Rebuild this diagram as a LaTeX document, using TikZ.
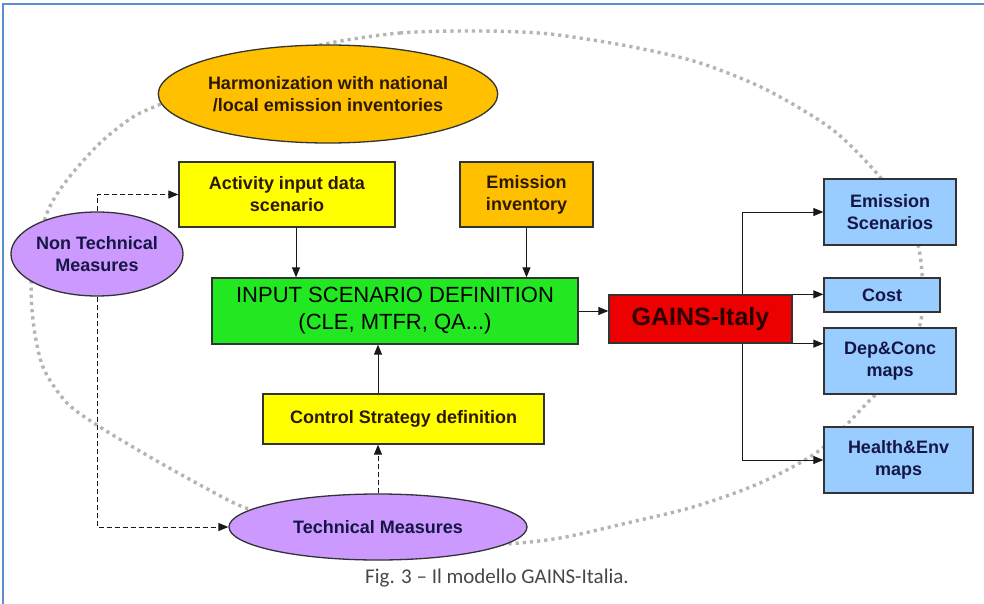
\documentclass[tikz,border=0pt]{standalone}
\usepackage{fontspec}
\setmainfont{Liberation Sans}
\newfontfamily\capfont{Carlito}
\usepackage{tikz}
\usetikzlibrary{positioning,arrows.meta,shapes.geometric}
\definecolor{gold}{RGB}{255,192,0}
\definecolor{lemon}{RGB}{255,255,0}
\definecolor{lime}{RGB}{34,232,34}
\definecolor{gainsred}{RGB}{236,0,0}
\definecolor{skyblue}{RGB}{153,204,255}
\definecolor{lilac}{RGB}{204,153,255}
\definecolor{framebl}{RGB}{91,143,210}
\definecolor{dotgrey}{RGB}{180,180,180}
\definecolor{inkbrown}{RGB}{45,25,0}
\definecolor{inknavy}{RGB}{22,22,70}
\newcommand{\lbl}{\fontsize{18}{22}\selectfont\bfseries}
\tikzset{
  box/.style  ={draw=black!80, line width=1.3pt, align=center, inner sep=0pt,
                font=\lbl, text=inkbrown},
  oval/.style ={box, ellipse},
  outbox/.style={box, fill=skyblue, text=inknavy, minimum height=66pt},
  ar/.style   ={-{Triangle[length=10pt,width=8pt]}, line width=1pt, draw=black!90},
  dar/.style  ={ar, dash pattern=on 5pt off 3pt},
  loop/.style ={draw=dotgrey, line width=3.4pt, dash pattern=on 3.2pt off 4pt},
}
\begin{document}
\begin{tikzpicture}[x=1pt,y=-1pt]
\useasboundingbox (0,0) rectangle (984,604);
% ---------- frame and dotted loop ----------
\draw[framebl, line width=2pt] (3,604) -- (3,4) -- (984,4);
\draw[loop] plot[smooth cycle] coordinates {
  (320,45) (400,33) (480,31) (550,34) (633,47) (700,63) (767,90) (833,130)
  (880,177) (910,220) (921,262) (921,320) (900,370) (870,400) (820,450)
  (760,483) (693,507) (627,523) (560,538) (500,544) (430,540) (350,528)
  (280,516) (243,507) (200,485) (150,457) (100,427) (67,403) (43,367)
  (33,320) (32,270) (47,213) (67,180) (100,143) (133,117) (163,103) (240,68)};

% ---------- inputs ----------
\node[oval, fill=gold, minimum width=330pt, minimum height=98pt] (harm) at (328,94)
  {Harmonization with national\\/local emission inventories};
\node[box, fill=lemon, minimum width=216pt, minimum height=65pt] (act) at (287,194.5)
  {Activity input data\\scenario};
\node[box, fill=gold, minimum width=133pt, minimum height=65pt] (inv) at (526.5,194.5)
  {Emission\\inventory};
\node[box, fill=lime, minimum width=366pt, minimum height=66pt, text=black,
  font=\fontsize{22}{27}\selectfont] (inp) at (395,311)
  {INPUT SCENARIO DEFINITION\\(CLE, MTFR, QA...)};
\node[box, fill=lemon, minimum width=281pt, minimum height=50pt] (cs) at (403.5,419)
  {Control Strategy definition};
\node[oval, fill=lilac, text=inknavy, minimum width=166pt, minimum height=84pt] (ntm) at (97,254)
  {Non Technical\\Measures};
\node[oval, fill=lilac, text=inknavy, minimum width=298pt, minimum height=66pt] (tm) at (378,527)
  {Technical Measures};

% ---------- model and outputs ----------
\node[box, fill=gainsred, minimum width=183pt, minimum height=48pt, text={rgb,255:red,45;green,0;blue,0},
  font=\fontsize{25}{28}\selectfont\bfseries] (gains) at (700.5,319) {GAINS-Italy};
\node[outbox, minimum width=132pt] (es) at (890,212) {Emission\\Scenarios};
\node[outbox, minimum width=116pt, minimum height=34pt] (cost) at (882,295) {Cost};
\node[outbox, minimum width=132pt] (dep) at (890,361) {Dep\&Conc\\maps};
\node[outbox, minimum width=149pt] (he) at (898.5,460) {Health\&Env\\maps};

% ---------- connectors ----------
\draw[ar] ([xshift=9pt]act.south) -- ([xshift=9pt]act.south |- inp.north);
\draw[ar] (inv.south) -- (inv.south |- inp.north);
\draw[dar] (tm.north) -- (tm.north |- cs.south);
\draw[ar] (tm.north |- cs.north) -- (tm.north |- inp.south);
\draw[dar] (ntm.north) |- (act.west);
\draw[dar] (ntm.south) |- (tm.west);
\draw[ar] (inp.east) -- (inp.east -| gains.west);
\draw[ar] ([xshift=41.5pt]gains.north) |- (es.west);
\draw[ar] (gains.north east) -- (gains.north east -| cost.west);
\draw[ar] (gains.south east) -- (gains.south east -| dep.west);
\draw[ar] ([xshift=41.5pt]gains.south) |- (he.west);

% ---------- caption ----------
\node[font=\capfont\fontsize{21}{25}\selectfont, text=black!72] (cap) at (497,578)
  {Fig. 3 – Il modello GAINS-Italia.};
\end{tikzpicture}
\end{document}
